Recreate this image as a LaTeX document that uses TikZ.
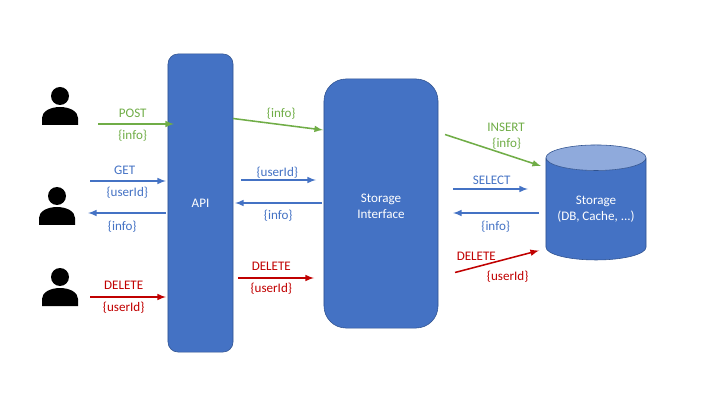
\documentclass[tikz,border=0pt]{standalone}
\usepackage{fontspec}
\setmainfont{Carlito}
\usepackage{tikz}
\usetikzlibrary{positioning,shapes,arrows}
\definecolor{boxblue}{HTML}{4472C4}
\definecolor{boxedge}{HTML}{2F528F}
\definecolor{boxtop}{HTML}{8FAADC}
\definecolor{flowgreen}{HTML}{70AD47}
\definecolor{flowred}{HTML}{C00000}

\begin{document}
\begin{tikzpicture}[
				x=0.025cm, y=-0.025cm,
				every node/.style={font=\fontsize{9.3}{11.3}\selectfont},
				box/.style={rectangle, draw=boxedge, fill=boxblue, text=white, align=center, line width=0.4pt},
				lbl/.style={inner sep=0pt},
				flow/.style={-latex, line width=1.1pt},
				person/.pic={
					\fill (0,0) circle (9);
					\fill (-18,29) -- (-18,22) .. controls (-18,15) and (-9,11) .. (0,11) .. controls (9,11) and (18,15) .. (18,22) -- (18,29) -- cycle;
				}
				]
				\useasboundingbox (0,0) rectangle (720,405);
				
				% users
				\pic at (60,96) {person};
				\pic at (57,196) {person};
				\pic at (60,277) {person};
				
				% blocks
				\node[box, rounded corners=0.25cm, minimum width=1.625cm, minimum height=7.45cm] (api) at (200.5,203) {API};
				\node[box, rounded corners=0.55cm, minimum width=2.85cm, minimum height=6.225cm, label={[lbl, text=white, align=center, yshift=-1.8pt]center:Storage\\Interface}] (iface) at (381,203.5) {};
				\node[cylinder, shape border rotate=90, draw=boxedge, line width=0.4pt, cylinder uses custom fill, cylinder body fill=boxblue, cylinder end fill=boxtop, shape aspect=0.33, text=white, align=center, inner sep=0pt, minimum width=2.5cm, minimum height=2.875cm] (storage) at (596,209) {Storage\\(DB, Cache, ...)};
				
				% free ends of the arrows
				\coordinate (postA) at (98,124);
				\coordinate (postB) at (174,124);
				\coordinate (getA) at (90,181);
				\coordinate (getB) at (166,181);
				\coordinate (backA) at (166,213);
				\coordinate (backB) at (88,213);
				\coordinate (delA) at (90,297);
				\coordinate (delB) at (166,297);
				\coordinate (ifaceA) at (233,118.5);
				\coordinate (ifaceB) at (323,130);
				\coordinate (readA) at (241,180);
				\coordinate (readB) at (316,180);
				\coordinate (retA) at (322,203);
				\coordinate (retB) at (235,203);
				\coordinate (rmA) at (238,278);
				\coordinate (rmB) at (314,278);
				\coordinate (insA) at (445,134.5);
				\coordinate (insB) at (541,166);
				\coordinate (selA) at (453,189);
				\coordinate (selB) at (528,189);
				\coordinate (rowsA) at (539,213);
				\coordinate (rowsB) at (453,213);
				\coordinate (dropA) at (455,272.5);
				\coordinate (dropB) at (539,250.5);
				
				\draw[flow, flowgreen] (postA) -- (postB);
				\draw[flow, boxblue] (getA) -- (getB);
				\draw[flow, boxblue] (backA) -- (backB);
				\draw[flow, flowred] (delA) -- (delB);
				\draw[flow, flowgreen] (ifaceA) -- (ifaceB);
				\draw[flow, boxblue] (readA) -- (readB);
				\draw[flow, boxblue] (retA) -- (retB);
				\draw[flow, flowred] (rmA) -- (rmB);
				\draw[flow, flowgreen] (insA) -- (insB);
				\draw[flow, boxblue] (selA) -- (selB);
				\draw[flow, boxblue] (rowsA) -- (rowsB);
				\draw[flow, flowred] (dropA) -- (dropB);
				
				% labels
				\node[lbl, text=flowgreen] (postL) at (132.7,113.8) {POST};
				\node[lbl, text=flowgreen] (postI) at (132.7,135.3) {\{info\}};
				\node[lbl, text=boxblue] (getL) at (124.7,170.8) {GET};
				\node[lbl, text=boxblue] (getI) at (127.3,192.7) {\{userId\}};
				\node[lbl, text=boxblue] (backI) at (122.3,226.7) {\{info\}};
				\node[lbl, text=flowred] (delL) at (123.7,285.7) {DELETE};
				\node[lbl, text=flowred] (delI) at (123.7,307.7) {\{userId\}};
				\node[lbl, text=flowgreen] (ifaceI) at (281.3,113.3) {\{info\}};
				\node[lbl, text=boxblue] (readI) at (277.3,172.7) {\{userId\}};
				\node[lbl, text=boxblue] (retI) at (278.3,216) {\{info\}};
				\node[lbl, text=flowred] (rmL) at (271.3,266.7) {DELETE};
				\node[lbl, text=flowred] (rmI) at (271.3,288.7) {\{userId\}};
				\node[lbl, text=flowgreen] (insL) at (506,127.3) {INSERT};
				\node[lbl, text=flowgreen] (insI) at (506.7,143.3) {\{info\}};
				\node[lbl, text=boxblue] (selL) at (491.7,180.7) {SELECT};
				\node[lbl, text=boxblue] (rowsI) at (495.7,226.7) {\{info\}};
				\node[lbl, text=flowred] (dropL) at (476.3,256) {DELETE};
				\node[lbl, text=flowred] (dropI) at (507.7,276.7) {\{userId\}};
			\end{tikzpicture}
\end{document}
